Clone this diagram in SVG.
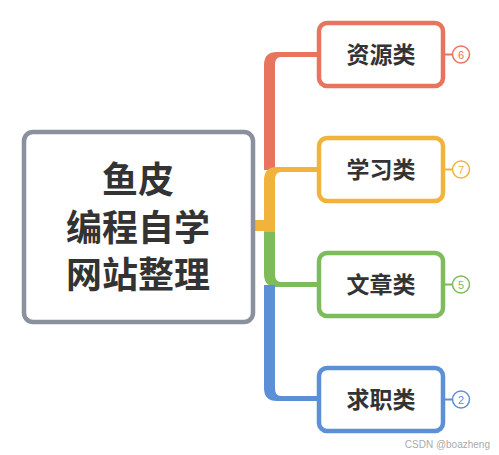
<svg xmlns="http://www.w3.org/2000/svg" width="499" height="455" viewBox="0 0 499 455">
<style>
.box{fill:#fff;stroke-width:4.5}
.t{font-family:"Noto Sans CJK SC","Noto Sans",sans-serif;font-weight:bold;fill:#333;text-anchor:middle}
.n{font-family:"Liberation Sans",Arial,sans-serif;font-size:11px;text-anchor:middle}
.badge{fill:#fff;stroke-width:1.5}
</style>
<rect width="499" height="455" fill="#fff"/>
<g id="connectors">
<path d="M264 170 L264 65 Q264 52 277 52 L319 52 L319 57 L281 57 Q275 57 275 65 L275 170 Z" fill="#e8735f"/>
<path d="M264 232 L264 180 Q264 167 277 167 L319 167 L319 172 L281 172 Q275 172 275 180 L275 232 Z" fill="#f2b33d"/>
<rect x="252" y="220" width="13" height="11" fill="#f2b33d"/>
<path d="M264 232 L264 274 Q264 287 277 287 L319 287 L319 282 L281 282 Q275 282 275 274 L275 232 Z" fill="#7dbb5b"/>
<path d="M264 285 L264 388 Q264 401 277 401 L319 401 L319 396 L281 396 Q275 396 275 388 L275 285 Z" fill="#5b8fd6"/>
<line x1="444" y1="54.5" x2="453" y2="54.5" stroke="#e8735f" stroke-width="2"/>
<line x1="444" y1="169.5" x2="453" y2="169.5" stroke="#f2b33d" stroke-width="2"/>
<line x1="444" y1="284.5" x2="453" y2="284.5" stroke="#7dbb5b" stroke-width="2"/>
<line x1="444" y1="399.5" x2="453" y2="399.5" stroke="#5b8fd6" stroke-width="2"/>
</g>
<g id="root">
<rect x="24" y="132" width="229" height="190" rx="9" class="box" stroke="#8b909e"/>
<text class="t" font-size="36" x="138" y="193">鱼皮</text>
<text class="t" font-size="36" x="138" y="241">编程自学</text>
<text class="t" font-size="36" x="138" y="288">网站整理</text>
</g>
<g id="n1">
<rect x="319" y="23" width="124" height="63" rx="8" class="box" stroke="#e8735f"/>
<text class="t" font-size="23" x="381" y="63">资源类</text>
<circle cx="461" cy="54.5" r="8.5" class="badge" stroke="#e8735f"/>
<text class="n" x="461" y="58.5" fill="#e8735f">6</text>
</g>
<g id="n2">
<rect x="319" y="138" width="124" height="63" rx="8" class="box" stroke="#f2b33d"/>
<text class="t" font-size="23" x="381" y="178">学习类</text>
<circle cx="461" cy="169.5" r="8.5" class="badge" stroke="#f2b33d"/>
<text class="n" x="461" y="173.5" fill="#f2b33d">7</text>
</g>
<g id="n3">
<rect x="319" y="253" width="124" height="63" rx="8" class="box" stroke="#7dbb5b"/>
<text class="t" font-size="23" x="381" y="293">文章类</text>
<circle cx="461" cy="284.5" r="8.5" class="badge" stroke="#7dbb5b"/>
<text class="n" x="461" y="288.5" fill="#7dbb5b">5</text>
</g>
<g id="n4">
<rect x="319" y="368" width="124" height="63" rx="8" class="box" stroke="#5b8fd6"/>
<text class="t" font-size="23" x="381" y="408">求职类</text>
<circle cx="461" cy="399.5" r="8.5" class="badge" stroke="#5b8fd6"/>
<text class="n" x="461" y="403.5" fill="#5b8fd6">2</text>
</g>
<text x="490" y="448" font-family="Liberation Sans,Arial,sans-serif" font-size="10" fill="#aaa" text-anchor="end">CSDN @boazheng</text>
</svg>
